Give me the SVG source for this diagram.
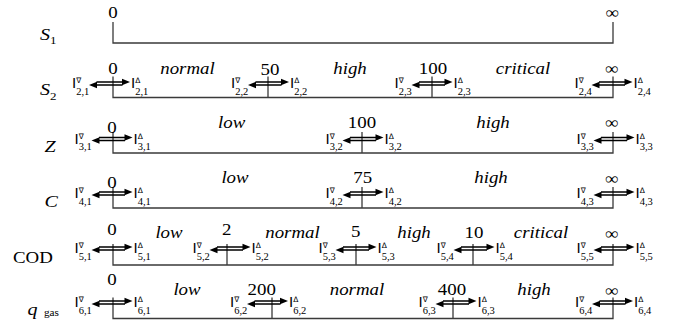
<svg xmlns="http://www.w3.org/2000/svg" xmlns:xlink="http://www.w3.org/1999/xlink" width="674" height="331" viewBox="0 0 674 331">
<style>
.t{font-family:'Liberation Serif','DejaVu Serif',serif;font-size:16px;fill:#000}
.i{font-style:italic}
.m{text-anchor:middle}
.b{font-family:'Liberation Sans','DejaVu Sans',sans-serif;font-size:15px;fill:#000}
.sup{font-family:'DejaVu Sans',sans-serif;font-size:7.5px}
.sub{font-family:'Liberation Serif','DejaVu Serif',serif;font-size:10.5px}
.ln{fill:none;stroke:#3a3a3a;stroke-width:1.3}
</style>
<defs>
<g id="dbl">
<path d="M-13 0H14M-14 3H13" stroke="#000" stroke-width="1.4" fill="none"/>
<path d="M20.5 0L12.5 -3.3L12.5 3.3ZM-20.5 3L-12.5 -0.3L-12.5 6.3Z" fill="#000"/>
</g>
</defs>
<rect width="674" height="331" fill="#fff"/>

<g id="row-labels">
<text class="t i" style="font-size:17px" transform="translate(40,39.5) scale(1.18,1)">S<tspan style="font-size:11px;font-style:normal" dy="4">1</tspan></text>
<text class="t i" style="font-size:17px" transform="translate(40,95) scale(1.18,1)">S<tspan style="font-size:11px;font-style:normal" dy="4.5">2</tspan></text>
<text class="t i" style="font-size:17px" transform="translate(44.5,151.5) scale(1.18,1)">Z</text>
<text class="t i" style="font-size:17px" transform="translate(44.5,207) scale(1.18,1)">C</text>
<text class="t" transform="translate(13,263.3) scale(1.18,1)">COD</text>
<text class="t i" style="font-size:17px" transform="translate(27.5,314.5) scale(1.18,1)">q<tspan style="font-size:9.5px;font-style:normal" dx="5.5" dy="1">gas</tspan></text>
</g>

<g id="connectors">
<path class="ln" d="M113 22V43H613V22"/>
<path class="ln" d="M113 76.5V97.5H613V76.5M268 76.5V97.5M432 76.5V97.5"/>
<path class="ln" d="M113 132V153H613V132M362 132V153"/>
<path class="ln" d="M113 187V208H613V187M362 187V208"/>
<path class="ln" d="M113 244V265H613V244M227 244V265M356 244V265M473 244V265"/>
<path class="ln" d="M113 297.5V318.5H613V297.5M272 297.5V318.5M453 297.5V318.5"/>
</g>

<g id="row-s1">
<text class="t m" transform="translate(113,17.5) scale(1.18,1)">0</text>
<text class="t m" transform="translate(612.5,18) scale(1.18,1)">∞</text>
</g>

<g id="row-s2">
<text class="t m" transform="translate(113,74) scale(1.18,1)">0</text>
<text class="t m" transform="translate(270,75) scale(1.18,1)">50</text>
<text class="t m" transform="translate(433,73.5) scale(1.18,1)">100</text>
<text class="t m" transform="translate(612,73.5) scale(1.18,1)">∞</text>
<text class="t i m" transform="translate(187.5,74) scale(1.18,1)">normal</text>
<text class="t i m" transform="translate(350,73.5) scale(1.18,1)">high</text>
<text class="t i m" transform="translate(523,73.5) scale(1.18,1)">critical</text>
<g id="n2-1"><use xlink:href="#dbl" x="109.5" y="82"/><text class="b" x="72" y="88">I<tspan class="sup" x="76.2" dy="-5">∇</tspan><tspan class="sub" x="76.2" dy="11.5">2,1</tspan></text><text class="b" x="131" y="88">I<tspan class="sup" x="135.2" dy="-5">Δ</tspan><tspan class="sub" x="135.2" dy="11.5">2,1</tspan></text></g>
<g id="n2-2"><use xlink:href="#dbl" x="268.5" y="82"/><text class="b" x="231" y="88">I<tspan class="sup" x="235.2" dy="-5">∇</tspan><tspan class="sub" x="235.2" dy="11.5">2,2</tspan></text><text class="b" x="290" y="88">I<tspan class="sup" x="294.2" dy="-5">Δ</tspan><tspan class="sub" x="294.2" dy="11.5">2,2</tspan></text></g>
<g id="n2-3"><use xlink:href="#dbl" x="432" y="82"/><text class="b" x="394.5" y="88">I<tspan class="sup" x="398.7" dy="-5">∇</tspan><tspan class="sub" x="398.7" dy="11.5">2,3</tspan></text><text class="b" x="453.5" y="88">I<tspan class="sup" x="457.7" dy="-5">Δ</tspan><tspan class="sub" x="457.7" dy="11.5">2,3</tspan></text></g>
<g id="n2-4"><use xlink:href="#dbl" x="612" y="82"/><text class="b" x="574.5" y="88">I<tspan class="sup" x="578.7" dy="-5">∇</tspan><tspan class="sub" x="578.7" dy="11.5">2,4</tspan></text><text class="b" x="633.5" y="88">I<tspan class="sup" x="637.7" dy="-5">Δ</tspan><tspan class="sub" x="637.7" dy="11.5">2,4</tspan></text></g>
</g>

<g id="row-z">
<text class="t m" transform="translate(112,132.5) scale(1.18,1)">0</text>
<text class="t m" transform="translate(362,127.5) scale(1.18,1)">100</text>
<text class="t m" transform="translate(612,128) scale(1.18,1)">∞</text>
<text class="t i m" transform="translate(231.7,128) scale(1.18,1)">low</text>
<text class="t i m" transform="translate(493,128) scale(1.18,1)">high</text>
<g id="n3-1"><use xlink:href="#dbl" x="112" y="137.5"/><text class="b" x="74.5" y="143.5">I<tspan class="sup" x="78.7" dy="-5">∇</tspan><tspan class="sub" x="78.7" dy="11.5">3,1</tspan></text><text class="b" x="133.5" y="143.5">I<tspan class="sup" x="137.7" dy="-5">Δ</tspan><tspan class="sub" x="137.7" dy="11.5">3,1</tspan></text></g>
<g id="n3-2"><use xlink:href="#dbl" x="363" y="137.5"/><text class="b" x="325.5" y="143.5">I<tspan class="sup" x="329.7" dy="-5">∇</tspan><tspan class="sub" x="329.7" dy="11.5">3,2</tspan></text><text class="b" x="384.5" y="143.5">I<tspan class="sup" x="388.7" dy="-5">Δ</tspan><tspan class="sub" x="388.7" dy="11.5">3,2</tspan></text></g>
<g id="n3-3"><use xlink:href="#dbl" x="614" y="137.5"/><text class="b" x="576.5" y="143.5">I<tspan class="sup" x="580.7" dy="-5">∇</tspan><tspan class="sub" x="580.7" dy="11.5">3,3</tspan></text><text class="b" x="635.5" y="143.5">I<tspan class="sup" x="639.7" dy="-5">Δ</tspan><tspan class="sub" x="639.7" dy="11.5">3,3</tspan></text></g>
</g>

<g id="row-c">
<text class="t m" transform="translate(112,188) scale(1.18,1)">0</text>
<text class="t m" transform="translate(362.7,183.3) scale(1.18,1)">75</text>
<text class="t m" transform="translate(612,184) scale(1.18,1)">∞</text>
<text class="t i m" transform="translate(235,183.3) scale(1.18,1)">low</text>
<text class="t i m" transform="translate(491,183) scale(1.18,1)">high</text>
<g id="n4-1"><use xlink:href="#dbl" x="112" y="192"/><text class="b" x="74.5" y="198">I<tspan class="sup" x="78.7" dy="-5">∇</tspan><tspan class="sub" x="78.7" dy="11.5">4,1</tspan></text><text class="b" x="133.5" y="198">I<tspan class="sup" x="137.7" dy="-5">Δ</tspan><tspan class="sub" x="137.7" dy="11.5">4,1</tspan></text></g>
<g id="n4-2"><use xlink:href="#dbl" x="363" y="192"/><text class="b" x="325.5" y="198">I<tspan class="sup" x="329.7" dy="-5">∇</tspan><tspan class="sub" x="329.7" dy="11.5">4,2</tspan></text><text class="b" x="384.5" y="198">I<tspan class="sup" x="388.7" dy="-5">Δ</tspan><tspan class="sub" x="388.7" dy="11.5">4,2</tspan></text></g>
<g id="n4-3"><use xlink:href="#dbl" x="614" y="192"/><text class="b" x="576.5" y="198">I<tspan class="sup" x="580.7" dy="-5">∇</tspan><tspan class="sub" x="580.7" dy="11.5">4,3</tspan></text><text class="b" x="635.5" y="198">I<tspan class="sup" x="639.7" dy="-5">Δ</tspan><tspan class="sub" x="639.7" dy="11.5">4,3</tspan></text></g>
</g>

<g id="row-cod">
<text class="t m" transform="translate(112,235) scale(1.18,1)">0</text>
<text class="t m" transform="translate(226.7,234.5) scale(1.18,1)">2</text>
<text class="t m" transform="translate(355.7,237.3) scale(1.18,1)">5</text>
<text class="t m" transform="translate(474,238) scale(1.18,1)">10</text>
<text class="t m" transform="translate(612,239) scale(1.18,1)">∞</text>
<text class="t i m" transform="translate(169,238) scale(1.18,1)">low</text>
<text class="t i m" transform="translate(292.5,238) scale(1.18,1)">normal</text>
<text class="t i m" transform="translate(414,238) scale(1.18,1)">high</text>
<text class="t i m" transform="translate(541,238) scale(1.18,1)">critical</text>
<g id="n5-1"><use xlink:href="#dbl" x="112" y="247"/><text class="b" x="74.5" y="253">I<tspan class="sup" x="78.7" dy="-5">∇</tspan><tspan class="sub" x="78.7" dy="11.5">5,1</tspan></text><text class="b" x="133.5" y="253">I<tspan class="sup" x="137.7" dy="-5">Δ</tspan><tspan class="sub" x="137.7" dy="11.5">5,1</tspan></text></g>
<g id="n5-2"><use xlink:href="#dbl" x="230" y="247"/><text class="b" x="192.5" y="253">I<tspan class="sup" x="196.7" dy="-5">∇</tspan><tspan class="sub" x="196.7" dy="11.5">5,2</tspan></text><text class="b" x="251.5" y="253">I<tspan class="sup" x="255.7" dy="-5">Δ</tspan><tspan class="sub" x="255.7" dy="11.5">5,2</tspan></text></g>
<g id="n5-3"><use xlink:href="#dbl" x="356" y="247"/><text class="b" x="318.5" y="253">I<tspan class="sup" x="322.7" dy="-5">∇</tspan><tspan class="sub" x="322.7" dy="11.5">5,3</tspan></text><text class="b" x="377.5" y="253">I<tspan class="sup" x="381.7" dy="-5">Δ</tspan><tspan class="sub" x="381.7" dy="11.5">5,3</tspan></text></g>
<g id="n5-4"><use xlink:href="#dbl" x="474" y="247"/><text class="b" x="436.5" y="253">I<tspan class="sup" x="440.7" dy="-5">∇</tspan><tspan class="sub" x="440.7" dy="11.5">5,4</tspan></text><text class="b" x="495.5" y="253">I<tspan class="sup" x="499.7" dy="-5">Δ</tspan><tspan class="sub" x="499.7" dy="11.5">5,4</tspan></text></g>
<g id="n5-5"><use xlink:href="#dbl" x="614" y="247"/><text class="b" x="576.5" y="253">I<tspan class="sup" x="580.7" dy="-5">∇</tspan><tspan class="sub" x="580.7" dy="11.5">5,5</tspan></text><text class="b" x="635.5" y="253">I<tspan class="sup" x="639.7" dy="-5">Δ</tspan><tspan class="sub" x="639.7" dy="11.5">5,5</tspan></text></g>
</g>

<g id="row-q">
<text class="t m" transform="translate(112,285) scale(1.18,1)">0</text>
<text class="t m" transform="translate(261.7,295) scale(1.18,1)">200</text>
<text class="t m" transform="translate(452,295) scale(1.18,1)">400</text>
<text class="t m" transform="translate(612,296) scale(1.18,1)">∞</text>
<text class="t i m" transform="translate(187,295) scale(1.18,1)">low</text>
<text class="t i m" transform="translate(357,295) scale(1.18,1)">normal</text>
<text class="t i m" transform="translate(534,295) scale(1.18,1)">high</text>
<g id="n6-1"><use xlink:href="#dbl" x="112" y="301"/><text class="b" x="74.5" y="307">I<tspan class="sup" x="78.7" dy="-5">∇</tspan><tspan class="sub" x="78.7" dy="11.5">6,1</tspan></text><text class="b" x="133.5" y="307">I<tspan class="sup" x="137.7" dy="-5">Δ</tspan><tspan class="sub" x="137.7" dy="11.5">6,1</tspan></text></g>
<g id="n6-2"><use xlink:href="#dbl" x="267.5" y="301"/><text class="b" x="230" y="307">I<tspan class="sup" x="234.2" dy="-5">∇</tspan><tspan class="sub" x="234.2" dy="11.5">6,2</tspan></text><text class="b" x="289" y="307">I<tspan class="sup" x="293.2" dy="-5">Δ</tspan><tspan class="sub" x="293.2" dy="11.5">6,2</tspan></text></g>
<g id="n6-3"><use xlink:href="#dbl" x="456" y="301"/><text class="b" x="418.5" y="307">I<tspan class="sup" x="422.7" dy="-5">∇</tspan><tspan class="sub" x="422.7" dy="11.5">6,3</tspan></text><text class="b" x="477.5" y="307">I<tspan class="sup" x="481.7" dy="-5">Δ</tspan><tspan class="sub" x="481.7" dy="11.5">6,3</tspan></text></g>
<g id="n6-4"><use xlink:href="#dbl" x="612.5" y="301"/><text class="b" x="575" y="307">I<tspan class="sup" x="579.2" dy="-5">∇</tspan><tspan class="sub" x="579.2" dy="11.5">6,4</tspan></text><text class="b" x="634" y="307">I<tspan class="sup" x="638.2" dy="-5">Δ</tspan><tspan class="sub" x="638.2" dy="11.5">6,4</tspan></text></g>
</g>
</svg>
